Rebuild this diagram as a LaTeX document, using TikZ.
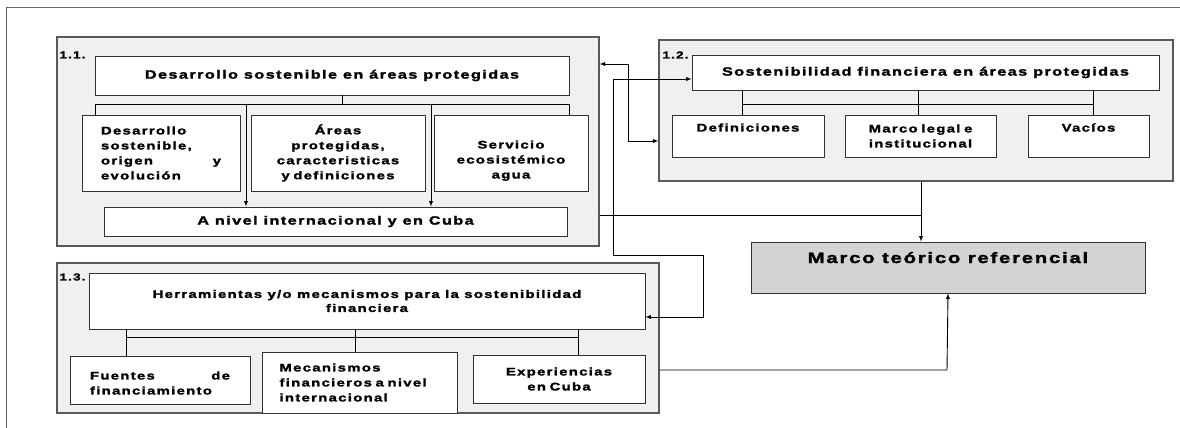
\documentclass[tikz,border=0pt]{standalone}
\usepackage{fontspec}
\setmainfont{Liberation Sans}
\newfontfamily\rotfont[LetterSpace=12, FakeStretch=1.35, FakeBold=2]{Liberation Sans Bold}
\tikzset{
  panel/.style={draw=black!65, line width=1.3pt, fill=black!6},
  caja/.style={draw=black!80, line width=0.9pt, fill=white, align=center,
    font=\rotfont\fontsize{11}{15}\selectfont},
  titulo/.style={caja, font=\rotfont\fontsize{12}{14}\selectfont},
  num/.style={anchor=north west, inner sep=0pt, font=\rotfont\fontsize{10}{10}\selectfont},
}
\begin{document}
\begin{tikzpicture}[>=latex, x=1pt, y=-1pt, line width=0.9pt]
    \useasboundingbox (0,0) rectangle (1180,428);
    \draw[black!60, line width=1pt] (6,428) -- (6,8) -- (1180,8);
    % panel 1.1 begin
    \node[panel, minimum width=542, minimum height=209] (P1) at (328,141.5) {};
    \node[num] (n1) at (59,51) {1.1.};
    \node[titulo, minimum width=474, minimum height=39] (T1) at (332,75.5) {Desarrollo sostenible en áreas protegidas};
    \node[caja, minimum width=158, minimum height=76, text width=120, align=left] (A1) at (161,153) {Desarrollo\\ sostenible,\\ origen \hfill y\\ evolución};
    \node[caja, minimum width=174, minimum height=76, text width=160] (B1) at (338,153) {Áreas\\ protegidas,\\ caracteristicas\\ y definiciones};
    \node[caja, minimum width=154, minimum height=76, text width=140, text depth=17pt] (C1) at (511,153) {Servicio\\ ecosistémico\\ agua};
    \node[titulo, minimum width=463, minimum height=29] (N1) at (335.5,221.5) {A nivel internacional y en Cuba};
    \draw (T1.south -| 342,0) -- (342,104);
    \draw (95,104) -- (569,104);
    \draw (95,104) -- (A1.north -| 95,0);
    \draw (569,104) -- (C1.north -| 569,0);
    \draw[->] (246,104) -- (N1.north -| 246,0);
    \draw[->] (431,104) -- (N1.north -| 431,0);
    % panel 1.1 end
    % panel 1.2 begin
    \node[panel, minimum width=514, minimum height=141] (P2) at (916,110.5) {};
    \node[num] (n2) at (662,51) {1.2.};
    \node[titulo, minimum width=467, minimum height=35] (T2) at (925.5,72.5) {Sostenibilidad financiera en áreas protegidas};
    \node[caja, minimum width=152, minimum height=42, text depth=17pt] (D2) at (748,136) {Definiciones};
    \node[caja, minimum width=151, minimum height=42, text width=140] (M2) at (920.5,136) {Marco legal e\\ institucional};
    \node[caja, minimum width=121, minimum height=42, text depth=17pt] (V2) at (1088.5,136) {Vacíos};
    \draw (T2.south -| 742,0) -- (D2.north -| 742,0);
    \draw (T2.south -| 918,0) -- (M2.north -| 918,0);
    \draw (T2.south -| 1093,0) -- (V2.north -| 1093,0);
    \draw (742,104) -- (1093,104);
    % panel 1.2 end
    % panel 1.3 begin
    \node[panel, minimum width=602, minimum height=150] (P3) at (358,338) {};
    \node[num] (n3) at (59,273) {1.3.};
    \node[caja, minimum width=556, minimum height=56, font=\rotfont\fontsize{11}{14}\selectfont] (T3) at (367,301) {Herramientas y/o mecanismos para la sostenibilidad\\ financiera};
    \node[caja, minimum width=180, minimum height=48, text width=140, align=left, text depth=9pt] (F3) at (160,380) {Fuentes \hfill de\\ financiamiento};
    \node[caja, minimum width=195, minimum height=61, text width=160, align=left] (Me3) at (359.5,382.5) {Mecanismos\\ financieros a nivel\\ internacional};
    \node[caja, minimum width=172, minimum height=48, text width=150] (E3) at (559,379) {Experiencias\\ en Cuba};
    \draw (T3.south -| 126,0) -- (F3.north -| 126,0);
    \draw (T3.south -| 355,0) -- (Me3.north -| 355,0);
    \draw (T3.south -| 578,0) -- (E3.north -| 578,0);
    \draw (126,337) -- (578,337);
    % panel 1.3 end
    % marco
    \node[caja, fill=black!17, minimum width=394, minimum height=51, text depth=20pt,
      font=\rotfont\fontsize{15}{18}\selectfont] (MT) at (948,267.5) {Marco teórico referencial};
    \coordinate (j1) at (628,64);
    \coordinate (j2) at (628,141);
    \draw[<->] (j1 -| P1.east) -- (j1) -- (j2) -- (j2 -| P2.west);
    \coordinate (k1) at (613,79);
    \coordinate (k2) at (703,255);
    \coordinate (k3) at (703,317);
    \draw[<->] (k1 -| T2.west) -- (k1) |- (k2) -- (k3) -- (k3 -| T3.east);
    \coordinate (m1) at (921,215);
    \draw (m1 -| P1.east) -- (m1);
    \draw[->] (P2.south -| m1) -- (MT.north -| m1);
    \coordinate (e1) at (947,370);
    \draw[->] (e1 -| P3.east) -- (e1) -- (MT.south);
\end{tikzpicture}
\end{document}
